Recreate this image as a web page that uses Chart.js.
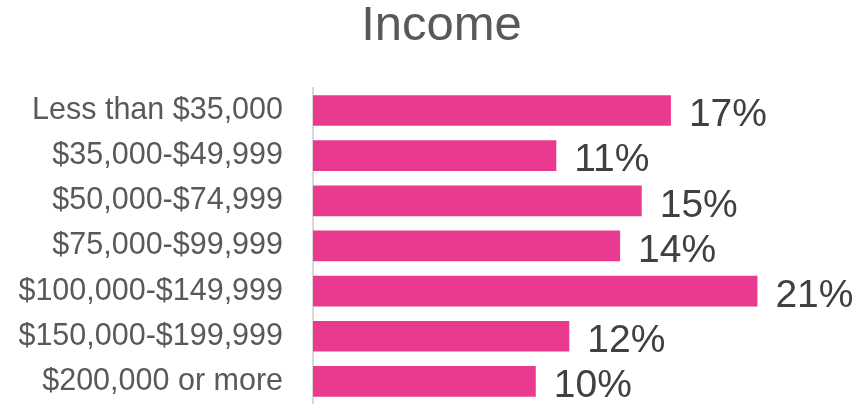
<!doctype html>
<html>
    <head>
        <meta charset="utf-8"/>
        <title>Income</title>
        <style>
            html, body { margin: 0; padding: 0; background: #fff; }
            .chart-container { position: relative; width: 858px; height: 404px; }
        </style>
    </head>
    <body>
        <div class="chart-container">
            <canvas id="myChart"></canvas>
        </div>

        <script src="https://cdn.jsdelivr.net/npm/chart.js@4/dist/chart.umd.min.js"></script>
        <script>
            // data
            var categories = ['Less than $35,000', '$35,000-$49,999', '$50,000-$74,999', '$75,000-$99,999',
                '$100,000-$149,999', '$150,000-$199,999', '$200,000 or more'];
            var shares = [16.55, 11.25, 15.2, 14.2, 20.55, 11.85, 10.3];
            var shareLabels = ['17%', '11%', '15%', '14%', '21%', '12%', '10%'];

            // draws the value text at the end of each bar
            const barValues = {
                id: 'barValues',
                afterLayout(chart) {
                    // let the long category labels run past the left padding without being clipped
                    chart.scales.y.left = 0;
                },
                afterDatasetsDraw(chart) {
                    var ctx = chart.ctx;
                    var meta = chart.getDatasetMeta(0);
                    ctx.save();
                    ctx.font = '39px "Liberation Sans", Arial, sans-serif';
                    ctx.fillStyle = '#404040';
                    ctx.textAlign = 'left';
                    ctx.textBaseline = 'middle';
                    meta.data.forEach(function (bar, i) {
                        ctx.fillText(shareLabels[i], bar.x + 18, bar.y + 5);
                    });
                    ctx.restore();
                }
            };

            const data = {
                labels: categories,
                datasets: [{
                    label: 'Income',
                    data: shares,
                    backgroundColor: '#EA3A8F',
                    borderWidth: 0,
                    categoryPercentage: 0.68,
                    barPercentage: 1
                }]
            };

            const config = {
                type: 'bar',
                data,
                options: {
                    indexAxis: 'y',
                    responsive: true,
                    maintainAspectRatio: false,
                    animation: false,
                    layout: { padding: { left: 25, right: 0, top: 0, bottom: 0 } },
                    plugins: {
                        legend: { display: false },
                        tooltip: { enabled: false },
                        title: {
                            display: true,
                            text: 'Income',
                            color: '#595959',
                            font: { family: '"Liberation Sans", Arial, sans-serif', size: 49, weight: 'normal', lineHeight: 1.1 },
                            padding: { top: 0, bottom: 34 }
                        }
                    },
                    scales: {
                        x: {
                            min: 0,
                            max: 25.2,
                            display: false
                        },
                        y: {
                            grid: { display: false, drawTicks: false },
                            border: { display: true, color: '#D9D9D9', width: 2 },
                            ticks: {
                                color: '#595959',
                                padding: 30,
                                font: { family: '"Liberation Sans", Arial, sans-serif', size: 30.5 }
                            },
                            afterFit: function (scale) {
                                // labels sit in a fixed-width gutter; no extra padding above/below the bars
                                scale.width = 288;
                                scale.paddingTop = 0;
                                scale.paddingBottom = 0;
                            }
                        }
                    }
                },
                plugins: [barValues]
            };

            var myChart = new Chart(document.getElementById('myChart'), config);
        </script>
    </body>
</html>
